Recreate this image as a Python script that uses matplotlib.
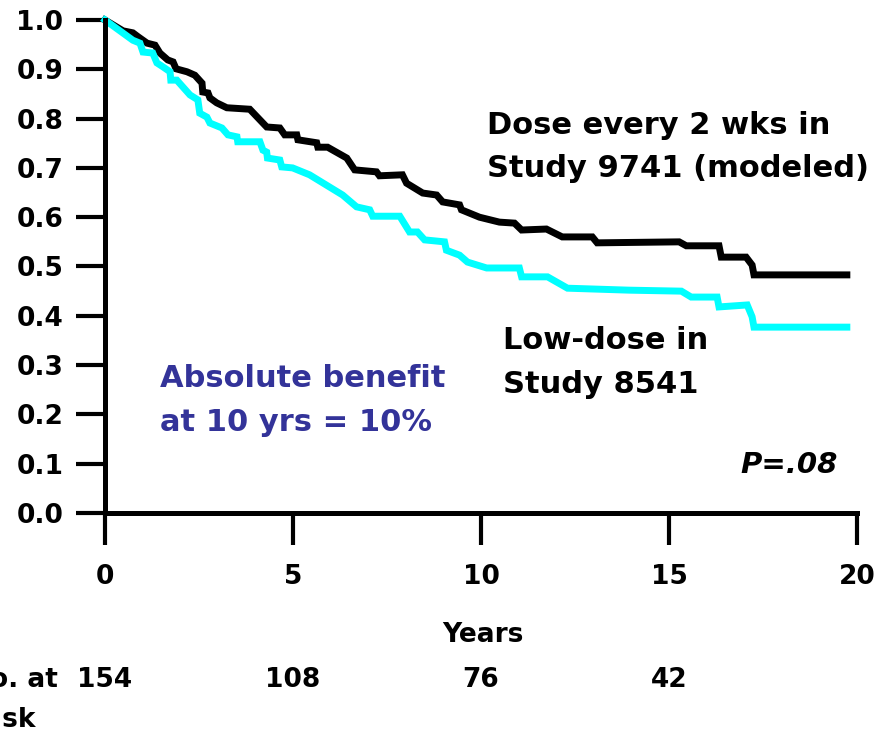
import matplotlib.pyplot as plt
import matplotlib.transforms as transforms

# Kaplan-Meier style curves (years, survival fraction)
dose2wk_years = [0.0, 0.48, 0.74, 0.88, 1.12, 1.33, 1.46, 1.67, 1.81, 1.89, 2.18, 2.39,
                 2.58, 2.60, 2.74, 2.79, 2.97, 3.24, 3.85, 4.30, 4.65, 4.78, 5.10, 5.13,
                 5.63, 5.66, 5.92, 6.43, 6.64, 7.22, 7.30, 7.91, 8.02, 8.45, 8.82, 8.98,
                 9.43, 9.48, 9.96, 10.49, 10.89, 11.08, 11.74, 12.16, 12.96, 13.09, 15.27,
                 15.46, 16.33, 16.39, 17.05, 17.21, 17.26, 19.73]
dose2wk_surv = [1.000, 0.978, 0.974, 0.966, 0.953, 0.949, 0.933, 0.919, 0.915, 0.901, 0.895, 0.888,
                0.872, 0.854, 0.852, 0.842, 0.832, 0.822, 0.819, 0.783, 0.781, 0.767, 0.767, 0.757,
                0.751, 0.742, 0.742, 0.720, 0.696, 0.692, 0.684, 0.686, 0.669, 0.649, 0.645, 0.631,
                0.625, 0.615, 0.600, 0.590, 0.588, 0.574, 0.576, 0.560, 0.560, 0.548, 0.550,
                0.542, 0.542, 0.519, 0.519, 0.503, 0.483, 0.483]

lowdose_years = [0.0, 0.74, 0.93, 1.01, 1.27, 1.38, 1.54, 1.73, 1.75, 1.91, 2.26, 2.47,
                 2.52, 2.71, 2.79, 3.11, 3.27, 3.51, 3.53, 4.12, 4.20, 4.30, 4.32, 4.65,
                 4.70, 4.99, 5.44, 6.32, 6.69, 7.04, 7.12, 7.84, 8.10, 8.31, 8.50, 9.03,
                 9.08, 9.43, 9.64, 10.15, 11.02, 11.08, 11.77, 12.30, 13.94, 15.33, 15.59,
                 16.28, 16.33, 17.08, 17.21, 17.26, 19.73]
lowdose_surv = [1.000, 0.959, 0.953, 0.935, 0.933, 0.913, 0.905, 0.895, 0.878, 0.878, 0.848, 0.838,
                0.811, 0.803, 0.791, 0.781, 0.767, 0.763, 0.753, 0.753, 0.736, 0.732, 0.720, 0.716,
                0.702, 0.700, 0.686, 0.645, 0.621, 0.615, 0.602, 0.602, 0.570, 0.570, 0.554, 0.550,
                0.533, 0.523, 0.509, 0.497, 0.497, 0.479, 0.479, 0.456, 0.452, 0.450, 0.438,
                0.438, 0.418, 0.422, 0.398, 0.377, 0.377]

x_ticks = [0, 5, 10, 15, 20]
y_ticks = [0.0, 0.1, 0.2, 0.3, 0.4, 0.5, 0.6, 0.7, 0.8, 0.9, 1.0]
risk_years = [0, 5, 10, 15]
risk_counts = [154, 108, 76, 42]

W, H = 875, 732
fig = plt.figure(figsize=(W / 100, H / 100), dpi=100)
ax = fig.add_axes([105 / W, 1 - 513 / H, 752 / W, 493 / H])

def px(x, y):
    return x / W, 1 - y / H

ax.plot(dose2wk_years, dose2wk_surv, color='black', lw=5, solid_joinstyle='miter', clip_on=False)
ax.plot(lowdose_years, lowdose_surv, color='#00FFFF', lw=5, solid_joinstyle='miter', clip_on=False)

ax.set_xlim(0, 20)
ax.set_ylim(0, 1)
ax.set_xticks(x_ticks)
ax.set_yticks(y_ticks)
ax.set_yticklabels(['%.1f' % v for v in y_ticks])
for s in ['top', 'right']:
    ax.spines[s].set_visible(False)
for s in ['left', 'bottom']:
    ax.spines[s].set_linewidth(3.6)
ax.tick_params(axis='x', length=23, width=3, pad=14, labelsize=19)
ax.tick_params(axis='y', length=21, width=3, pad=9, labelsize=19)
for lab in ax.get_xticklabels() + ax.get_yticklabels():
    lab.set_fontweight('bold')

bold = dict(fontweight='bold', fontsize=22)
fig.text(*px(487, 134), 'Dose every 2 wks in', ha='left', va='baseline', **bold)
fig.text(*px(487, 177), 'Study 9741 (modeled)', ha='left', va='baseline', **bold)
fig.text(*px(503, 349), 'Low-dose in', ha='left', va='baseline', **bold)
fig.text(*px(503, 393), 'Study 8541', ha='left', va='baseline', **bold)
fig.text(*px(160, 387), 'Absolute benefit', ha='left', va='baseline', color='#333399', **bold)
fig.text(*px(160, 431), 'at 10 yrs = 10%', ha='left', va='baseline', color='#333399', **bold)
fig.text(*px(838, 473), 'P=.08', ha='right', va='baseline', fontweight='bold',
         fontstyle='italic', fontsize=21)

fig.text(*px(483, 642), 'Years', ha='center', va='baseline', fontweight='bold', fontsize=19)

trans = transforms.blended_transform_factory(ax.transData, fig.transFigure)
for yr, n in zip(risk_years, risk_counts):
    ax.text(yr, 1 - 687 / H, str(n), transform=trans, ha='center', va='baseline',
            fontweight='bold', fontsize=19)
fig.text(*px(58, 687), 'No. at', ha='right', va='baseline', fontweight='bold', fontsize=19)
fig.text(*px(36, 727), 'risk', ha='right', va='baseline', fontweight='bold', fontsize=19)

fig.savefig('out.png', dpi=100)
